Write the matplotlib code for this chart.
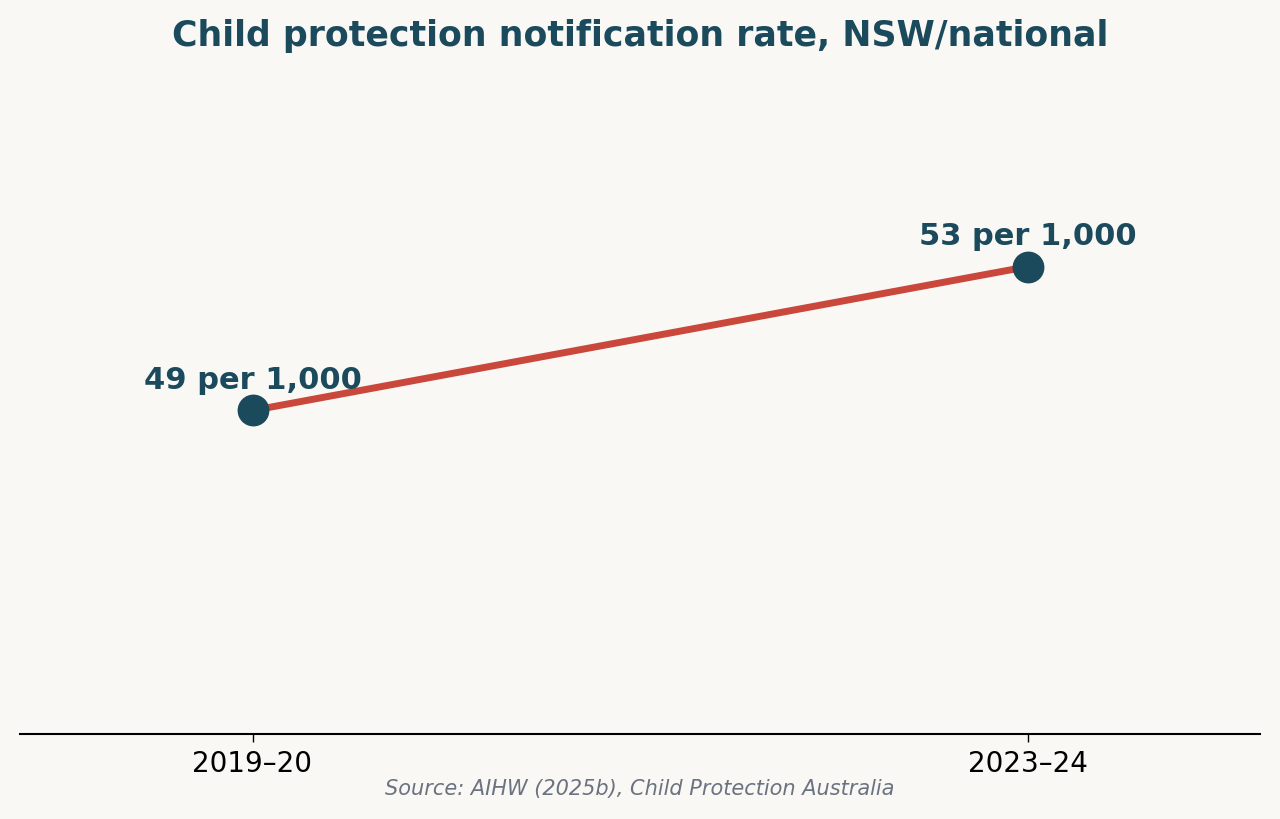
import matplotlib
matplotlib.use("Agg")
import matplotlib.pyplot as plt

years = ["2019–20", "2023–24"]
rates = [49, 53]
labels = ["49 per 1,000", "53 per 1,000"]

bg = "#f9f8f5"
navy = "#1b4a5c"
red = "#c9483b"

fig = plt.figure(figsize=(12.8, 8.2), dpi=100, facecolor=bg)
ax = fig.add_axes([20 / 1280, 85 / 820, 1240 / 1280, 665 / 820], facecolor=bg)

x = list(range(len(years)))
ax.plot(x, rates, color=red, lw=5, zorder=2)
ax.scatter(x, rates, s=480, color=navy, zorder=3)
for xi, yi, lab in zip(x, rates, labels):
    ax.annotate(lab, (xi, yi), xytext=(0, 12), textcoords="offset points",
                ha="center", va="bottom", fontsize=22, fontweight="bold", color=navy)

ax.set_xlim(-0.3, 1.3)
ax.set_ylim(40, 58.5)
ax.set_xticks(x)
ax.set_xticklabels(years, fontsize=20)
ax.set_yticks([])
for s in ["top", "right", "left"]:
    ax.spines[s].set_visible(False)
ax.spines["bottom"].set_linewidth(1.5)
ax.tick_params(axis="x", length=6, width=1, pad=5)

fig.text(0.5, 1 - 36 / 820, "Child protection notification rate, NSW/national",
         ha="center", va="center", fontsize=25, fontweight="bold", color=navy)
fig.text(0.5, 1 - 789 / 820, "Source: AIHW (2025b), Child Protection Australia",
         ha="center", va="center", fontsize=15, style="italic", color="#6b7280")

fig.savefig("out.png", dpi=100, facecolor=bg)
